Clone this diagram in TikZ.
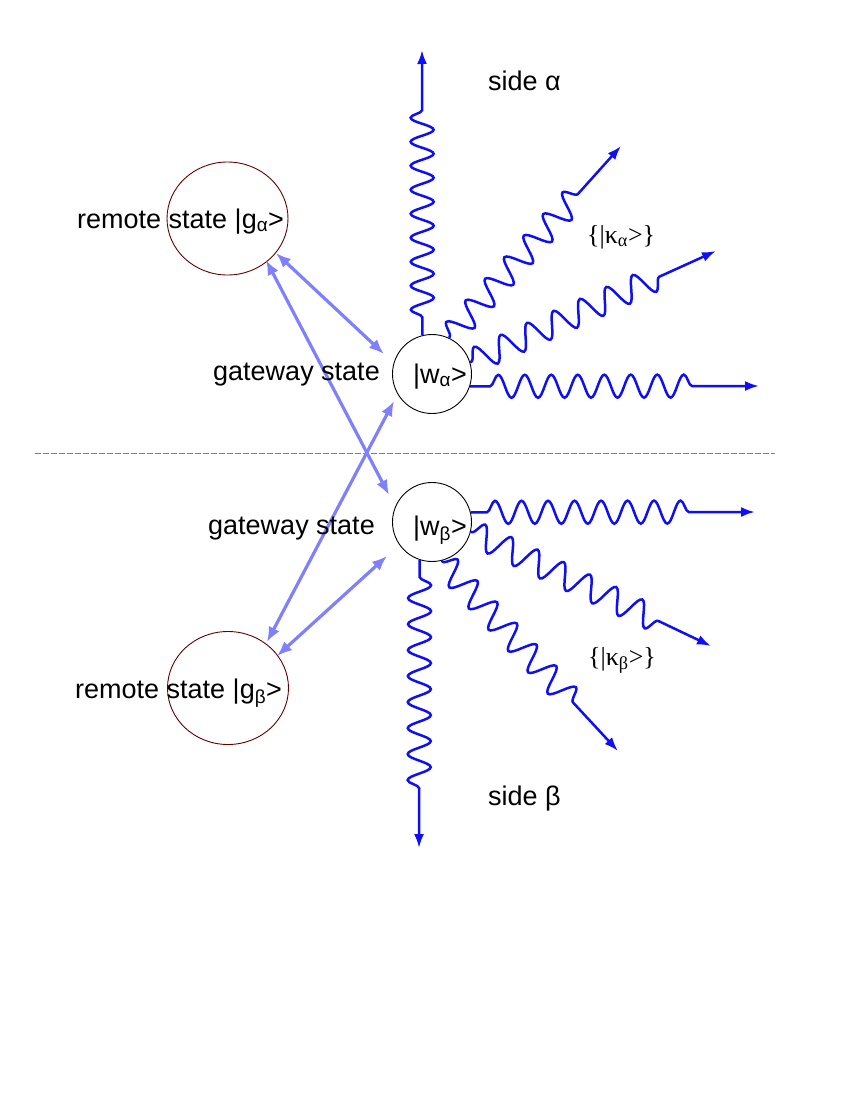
\documentclass[tikz,border=0pt]{standalone}
\usepackage{fontspec}
\setmainfont{Liberation Sans}
\newfontfamily\seriffont{Liberation Serif}
\usetikzlibrary{decorations.pathmorphing,arrows.meta,shapes.geometric}
\definecolor{wblue}{RGB}{15,15,245}
\definecolor{lblue}{RGB}{128,128,255}
\definecolor{dred}{RGB}{100,0,0}
\begin{document}
\begin{tikzpicture}[x=1pt,y=-1pt,
  lbl/.style={anchor=base west, inner sep=0pt, font=\fontsize{27}{32}\selectfont},
  remote/.style={draw=dred, line width=0.9pt, ellipse, minimum width=121pt, minimum height=113pt, inner sep=0pt},
  gate/.style={draw=black, line width=0.9pt, circle, minimum size=79pt, inner sep=0pt},
  link/.style={draw=lblue, line width=3.2pt, {Latex[length=15pt,width=12pt]}-{Latex[length=15pt,width=12pt]}},
  wave/.style={draw=wblue, line width=2.5pt, -{Latex[length=14pt,width=10pt]}, decorate,
    decoration={snake, amplitude=11.5pt}},
  sep/.style={draw=gray, line width=0.7pt, dash pattern=on 6pt off 2pt}
]
\useasboundingbox (0,0) rectangle (850,1100);

% separator
\coordinate (dl) at (35,453);
\coordinate (dr) at (775,453);
\draw[sep] (dl) -- (dr);

% states
\node[remote] (ga) at (227.5,218.5) {};
\node[remote] (gb) at (228,688) {};
\node[gate] (wa) at (432,374) {};
\node[gate] (wb) at (432,522) {};

% light blue double arrows
\coordinate (a1s) at (276,253);  \coordinate (a1e) at (384,354);
\coordinate (a2s) at (266,260);  \coordinate (a2e) at (389,495);
\coordinate (a3s) at (394,401);  \coordinate (a3e) at (267,642);
\coordinate (a4s) at (387,556);  \coordinate (a4e) at (277,656);
\draw[link] (a1s) -- (a1e);
\draw[link] (a2s) -- (a2e);
\draw[link] (a3s) -- (a3e);
\draw[link] (a4s) -- (a4e);

% wavy arrows, side alpha
\coordinate (eav) at (422,50);
\coordinate (ead1) at (621,146);
\coordinate (ead2) at (716,251);
\coordinate (eah) at (759,386);
\draw[wave, decoration={segment length=24pt, pre length=18pt, post length=57pt}] (wa.104) -- (eav);
\draw[wave, decoration={amplitude=12.5pt, segment length=29pt, pre length=1pt, post length=55pt}] (wa.65) -- (ead1);
\draw[wave, decoration={amplitude=12.5pt, segment length=29pt, pre length=1pt, post length=58pt}] (wa.17) -- (ead2);
\draw[wave, decoration={segment length=26.5pt, pre length=20pt, post length=57pt}] (wa.-18) -- (eah);

% wavy arrows, side beta
\coordinate (ebh) at (755,512);
\coordinate (ebd1) at (711,646);
\coordinate (ebd2) at (618,751);
\coordinate (ebv) at (419,848);
\draw[wave, decoration={segment length=26.5pt, pre length=16pt, post length=55pt}] (wb.14) -- (ebh);
\draw[wave, decoration={amplitude=12.5pt, segment length=29pt, pre length=1pt, post length=52pt}] (wb.-14) -- (ebd1);
\draw[wave, decoration={amplitude=12.5pt, segment length=29pt, pre length=1pt, post length=52pt}] (wb.-76) -- (ebd2);
\draw[wave, decoration={segment length=26pt, pre length=17pt, post length=57pt}] (wb.-108) -- (ebv);

% labels
\node[lbl] (tga) at (77,228) {remote state |g\textsubscript{α}>};
\node[lbl] (tgb) at (75,698) {remote state |g\textsubscript{β}>};
\node[lbl] (tgwa) at (213,380) {gateway state};
\node[lbl] (tgwb) at (208,534) {gateway state};
\node[lbl] (twa) at (413,383) {|w\textsubscript{α}>};
\node[lbl] (twb) at (413,535) {|w\textsubscript{β}>};
\node[lbl] (tsa) at (488,90) {side α};
\node[lbl] (tsb) at (488,805) {side β};
\node[lbl, font=\seriffont\fontsize{26}{30}\selectfont] (tka) at (587,243) {\{|κ\textsubscript{α}>\}};
\node[lbl, font=\seriffont\fontsize{26}{30}\selectfont] (tkb) at (588,665) {\{|κ\textsubscript{β}>\}};
\end{tikzpicture}
\end{document}
